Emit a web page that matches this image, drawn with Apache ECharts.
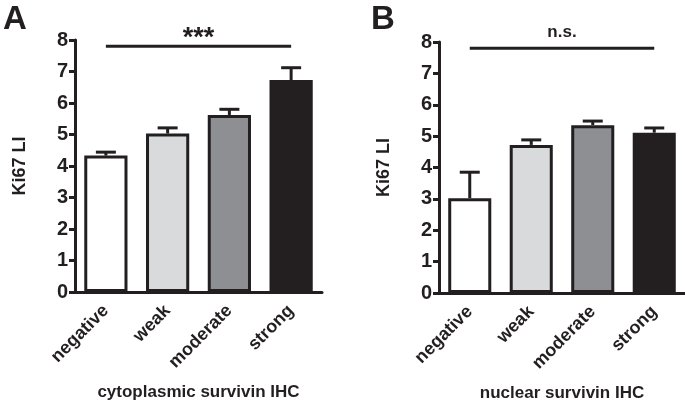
<!DOCTYPE html>
<html>
<head>
<meta charset="utf-8">
<script src="https://cdn.jsdelivr.net/npm/echarts@6/dist/echarts.min.js"></script>
<style>html,body{margin:0;padding:0;background:#fff}#c{width:685px;height:403px}</style>
</head>
<body>
<div id="c"></div>
<script>
var categories = ['negative', 'weak', 'moderate', 'strong'];
var barColors = ['#ffffff', '#d9dadc', '#8e8f93', '#231f20'];
var yTicks = [0, 1, 2, 3, 4, 5, 6, 7, 8];
// Panel A: cytoplasmic survivin IHC
var valuesA = [4.33, 5.03, 5.62, 6.73];
var errA = [0.11, 0.18, 0.18, 0.39];
var sigA = {from: 0, to: 3, y: 7.8, label: '***'};
// Panel B: nuclear survivin IHC
var valuesB = [3.02, 4.72, 5.35, 5.11];
var errB = [0.83, 0.16, 0.13, 0.15];
var sigB = {from: 0, to: 3, y: 7.8, label: 'n.s.'};

var FONT = 'Liberation Sans, Arial, sans-serif';
var INK = '#231f20';
var chart = echarts.init(document.getElementById('c'));

function xAxis(idx, name) {
  return {
    type: 'category', gridIndex: idx, data: categories, boundaryGap: true,
    name: name, nameLocation: 'middle', nameGap: 92,
    nameTextStyle: {color: INK, fontWeight: 'bold', fontSize: 17, fontFamily: FONT},
    axisLine: {lineStyle: {color: INK, width: 3}},
    axisTick: {alignWithLabel: true, length: 8, lineStyle: {color: INK, width: 3}},
    axisLabel: {rotate: 45, color: INK, fontWeight: 'bold', fontSize: 18, fontFamily: FONT, margin: 16}
  };
}
function yAxis(idx) {
  return {
    type: 'value', gridIndex: idx, min: yTicks[0], max: yTicks[yTicks.length - 1], interval: 1,
    name: 'Ki67 LI', nameLocation: 'middle', nameGap: 46, nameRotate: 90,
    nameTextStyle: {color: INK, fontWeight: 'bold', fontSize: 18, fontFamily: FONT},
    axisLine: {show: true, lineStyle: {color: INK, width: 3}},
    axisTick: {show: true, length: 6, lineStyle: {color: INK, width: 3}},
    axisLabel: {color: INK, fontWeight: 'bold', fontSize: 20, fontFamily: FONT, margin: 7},
    splitLine: {show: false}
  };
}
function barSeries(idx, vals) {
  return {
    type: 'bar', xAxisIndex: idx, yAxisIndex: idx, barWidth: '70%', z: 3,
    data: vals.map(function (v, i) {
      return {value: v, itemStyle: {color: barColors[i], borderColor: INK, borderWidth: 3}};
    })
  };
}
function errSeries(idx, vals, errs) {
  return {
    type: 'custom', xAxisIndex: idx, yAxisIndex: idx, z: 2,
    data: vals.map(function (v, i) { return [i, v, v + errs[i]]; }),
    renderItem: function (params, api) {
      var lo = api.coord([api.value(0), api.value(1)]);
      var hi = api.coord([api.value(0), api.value(2)]);
      var hw = 10;
      return {
        type: 'group', children: [
          {type: 'line', shape: {x1: lo[0], y1: lo[1], x2: hi[0], y2: hi[1]}, style: {stroke: INK, lineWidth: 3}},
          {type: 'line', shape: {x1: hi[0] - hw, y1: hi[1], x2: hi[0] + hw, y2: hi[1]}, style: {stroke: INK, lineWidth: 3}}
        ]
      };
    }
  };
}
function sigSeries(idx, sig) {
  return {
    type: 'custom', xAxisIndex: idx, yAxisIndex: idx, z: 4,
    data: [[sig.from, sig.to, sig.y]],
    renderItem: function (params, api) {
      var a = api.coord([api.value(0), api.value(2)]);
      var b = api.coord([api.value(1), api.value(2)]);
      var star = sig.label === '***';
      return {
        type: 'group', children: [
          {type: 'line', shape: {x1: a[0], y1: a[1], x2: b[0], y2: b[1]}, style: {stroke: INK, lineWidth: 3}},
          {type: 'text', style: {x: (a[0] + b[0]) / 2, y: star ? a[1] + 6 : a[1] - 7, text: sig.label, fill: INK,
            font: 'bold ' + (star ? 27 : 17) + 'px ' + FONT, align: 'center', verticalAlign: 'bottom'}}
        ]
      };
    }
  };
}

chart.setOption({
  animation: false,
  backgroundColor: '#fff',
  title: [
    {text: 'A', left: -2, top: -2, textStyle: {fontSize: 33, fontWeight: 'bold', color: INK, fontFamily: FONT}},
    {text: 'B', left: 366, top: -2, textStyle: {fontSize: 33, fontWeight: 'bold', color: INK, fontFamily: FONT}}
  ],
  grid: [
    {left: 75, top: 40, width: 247, height: 252, outerBoundsMode: 'none', containLabel: false},
    {left: 439, top: 42, width: 246, height: 251, outerBoundsMode: 'none', containLabel: false}
  ],
  xAxis: [xAxis(0, 'cytoplasmic survivin IHC'), xAxis(1, 'nuclear survivin IHC')],
  yAxis: [yAxis(0), yAxis(1)],
  series: [
    barSeries(0, valuesA), errSeries(0, valuesA, errA), sigSeries(0, sigA),
    barSeries(1, valuesB), errSeries(1, valuesB, errB), sigSeries(1, sigB)
  ]
});
</script>
</body>
</html>
